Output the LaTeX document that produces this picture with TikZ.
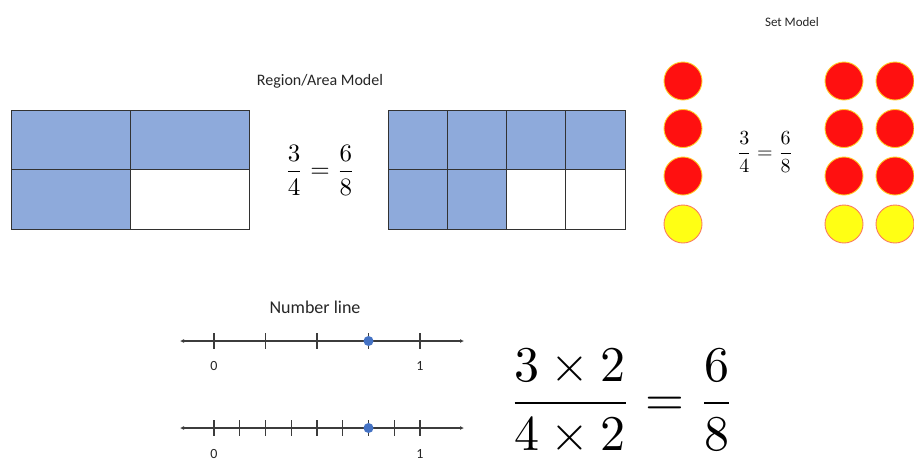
\documentclass[tikz,border=0pt]{standalone}
\usepackage{amsmath}
\usepackage{graphicx}
\usepackage{fontspec}
\newfontfamily\calib{Carlito}
\usetikzlibrary{arrows.meta}
\definecolor{areablue}{RGB}{142,170,219}
\definecolor{gridline}{RGB}{50,50,50}
\definecolor{setred}{RGB}{255,16,16}
\definecolor{setredrim}{RGB}{255,205,40}
\definecolor{setyellow}{RGB}{255,255,20}
\definecolor{setyellowrim}{RGB}{250,125,95}
\definecolor{dotblue}{RGB}{68,114,196}
\definecolor{axisgray}{RGB}{60,60,60}
\newcommand{\bigeq}[2]{\scalebox{#1}{$#2$}}
\tikzset{
	cellline/.style={draw=gridline, line width=1pt},
	redcounter/.style={circle, fill=setred, draw=setredrim, line width=0.9pt, minimum size=38pt, inner sep=0pt},
	yellowcounter/.style={circle, fill=setyellow, draw=setyellowrim, line width=0.9pt, minimum size=38pt, inner sep=0pt},
	axis/.style={draw=axisgray, line width=1.2pt, {Latex[length=4pt,width=4pt]}-{Latex[length=4pt,width=4pt]}},
	tick/.style={draw=axisgray, line width=1.2pt},
	ticklabel/.style={font=\calib\fontsize{14}{16}\selectfont, text=black!85},
	title/.style={font=\calib\fontsize{#1}{#1}\selectfont, text=black!85},
	markdot/.style={circle, fill=dotblue, inner sep=0pt, minimum size=10pt}
}
\begin{document}
\begin{tikzpicture}[x=1pt,y=-1pt]
	\clip (0,0) rectangle (914,459);
	\fill[white] (0,0) rectangle (914,459);
	\def\xA{11};
	\def\xB{249};
	\def\xC{388};
	\def\xD{625};
	\def\yT{110};
	\def\yM{169.5};
	\def\yB{229};
	\node[title=16] (regiontitle) at (320,81) {Region/Area Model};
	\fill[areablue] (\xA,\yT) rectangle (\xB,\yM);
	\fill[areablue] (\xA,\yM) rectangle ({(\xA+\xB)/2},\yB);
	\draw[cellline] (\xA,\yT) rectangle (\xB,\yB);
	\draw[cellline] ({(\xA+\xB)/2},\yT) -- ({(\xA+\xB)/2},\yB);
	\draw[cellline] (\xA,\yM) -- (\xB,\yM);
	\node (regionfrac) at (320,170) {\bigeq{2.5}{\dfrac{3}{4}=\dfrac{6}{8}}};
	\fill[areablue] (\xC,\yT) rectangle (\xD,\yM);
	\fill[areablue] (\xC,\yM) rectangle ({(\xC+\xD)/2},\yB);
	\draw[cellline] (\xC,\yT) rectangle (\xD,\yB);
	\foreach \k in {1,2,3}	\draw[cellline] ({\xC+\k*(\xD-\xC)/4},\yT) -- ({\xC+\k*(\xD-\xC)/4},\yB);
	\draw[cellline] (\xC,\yM) -- (\xD,\yM);
	\node[title=13] (settitle) at (792,22) {Set Model};
	\foreach \y in {81,128.5,176}	\node[redcounter] (a\y) at (683,\y) {};
	\node[yellowcounter] (a224) at (683,224) {};
	\foreach \x in {844,895}{
		\foreach \y in {81,128.5,176}	\node[redcounter] (b\x-\y) at (\x,\y) {};
		\node[yellowcounter] (b\x-224) at (\x,224) {};
	}
	\node (setfrac) at (765,152) {\bigeq{2}{\dfrac{3}{4}=\dfrac{6}{8}}};
	\node[title=18] (linetitle) at (315,307) {Number line};
	\def\xzero{214};
	\def\xone{420};
	\coordinate (qleft) at (180,341);
	\coordinate (qright) at (464,341);
	\draw[axis] (qleft) -- (qright);
	\foreach \k in {0,...,4}	\draw[tick] ({\xzero+\k*(\xone-\xzero)/4},333) -- ++(0,16);
	\node[markdot] (qdot) at ({\xzero+0.75*(\xone-\xzero)},341) {};
	\node[ticklabel] (qzero) at (\xzero,366) {0};
	\node[ticklabel] (qone) at (\xone,366) {1};
	\coordinate (eleft) at (180,428);
	\coordinate (eright) at (464,428);
	\draw[axis] (eleft) -- (eright);
	\foreach \k in {0,...,8}	\draw[tick] ({\xzero+\k*(\xone-\xzero)/8},420) -- ++(0,16);
	\node[markdot] (edot) at ({\xzero+0.75*(\xone-\xzero)},428) {};
	\node[ticklabel] (ezero) at (\xzero,454) {0};
	\node[ticklabel] (eone) at (\xone,454) {1};
	\node (bigfrac) at (622,402) {\bigeq{5}{\dfrac{3\times2}{4\times2}=\dfrac{6}{8}}};
\end{tikzpicture}
\end{document}
